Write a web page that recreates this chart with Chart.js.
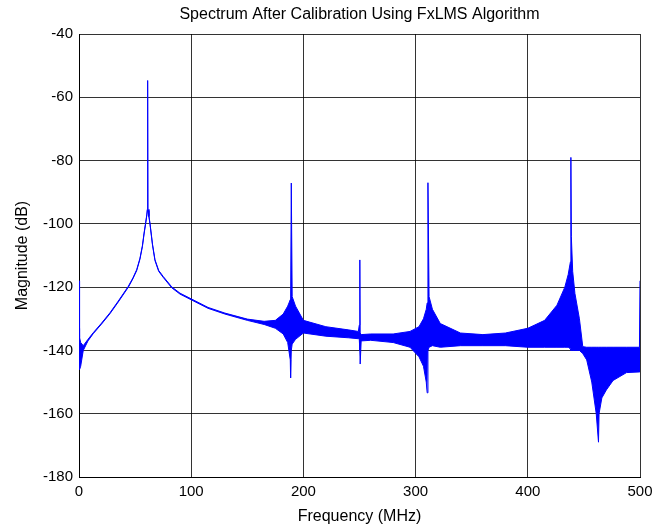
<!DOCTYPE html>
<html>
<head>
<meta charset="utf-8">
<script src="https://cdn.jsdelivr.net/npm/chart.js@4"></script>
<style>
  html, body { margin: 0; padding: 0; background: #fff; }
  #wrap { width: 669px; height: 526px; }
</style>
</head>
<body>
<div id="wrap"><canvas id="spectrum" width="669" height="526"></canvas></div>
<script>
// frequency points (MHz) and the upper / lower edge of the trace (dB)
const freq = [0, 0.5, 1.5, 3.8, 8, 12.7, 20, 27.6, 35, 44, 48, 51.4, 54.3, 56.5, 58, 59.5, 60.5, 60.9, 61.2, 61.5, 62.3, 63.3, 65.5, 67.7, 71, 75, 82.6, 90, 100, 115, 130, 150,
  165, 175, 182, 186, 188.3, 188.6, 189.2, 190, 193, 200, 220, 240, 249, 249.8, 250.3, 250.6, 251.5, 260, 280, 295,
  303, 307, 309.5, 310.3, 311, 312, 315, 322, 340, 360, 380, 400, 415, 426, 433, 436, 438, 438.3, 438.5, 438.8,
  440, 442, 446, 449, 452.5, 457, 461, 463, 463.5, 466, 470, 476, 488, 499.5, 500];
const upper = [-118, -136, -137.5, -138.5, -136.5, -134.4, -131.4, -128.1, -124.4, -119.7, -117.1, -114.5, -110.9, -106.9, -102.9, -99.4, -96.9, -95.4, -54.7, -95.4, -97.4, -99.9, -106.4, -111.3, -114.7, -116.6, -119.9, -121.9, -123.7, -126.4, -128.2, -130.1,
  -130.8, -130.5, -128.5, -126, -124, -126, -87.1, -123, -126, -130.5, -132.5, -133.5, -134, -132, -111.4, -134.5, -135, -134.8, -134.8, -134,
  -132.5, -130, -127, -125, -87, -123, -127, -131.5, -134.5, -135, -134.5, -133, -130.5, -125.7, -120, -116, -112, -103, -79, -104,
  -115, -122, -130, -138.8, -139, -139, -139, -139, -139, -139, -139, -139, -139, -139, -118];
const lower = [-133, -146, -145, -140, -137, -134.7, -131.7, -128.4, -124.7, -120, -117.4, -114.8, -111.2, -107.2, -103.2, -99.7, -97.2, -95.8, -96, -95.8, -97.7, -100.2, -106.7, -111.6, -115, -116.9, -120.2, -122.2, -124, -126.7, -128.5, -130.5,
  -131.8, -133, -134.8, -137.5, -143, -148.7, -140, -138, -136.5, -134.5, -135.5, -136, -136.3, -136.5, -140, -144.3, -137, -136.8, -137.5, -139,
  -142, -145, -150, -153.4, -140, -139, -138.5, -139, -138.5, -138.5, -138.5, -139, -139, -139, -139, -139, -139.5, -139.5, -140, -140,
  -140, -140, -140, -141, -143, -150, -160, -169, -160, -155, -152.5, -149.5, -147, -146.8, -146.8];

const xTicks = [0, 100, 200, 300, 400, 500];
const yTicks = [-180, -160, -140, -120, -100, -80, -60, -40];
const titleText = 'Spectrum After Calibration Using FxLMS Algorithm';

const font = 'Liberation Sans, Arial, Helvetica, sans-serif';
const blue = '#0000ff';

// title centred over the plot box, like the original
const plotTitle = {
  id: 'plotTitle',
  afterDraw(chart) {
    const { ctx, chartArea } = chart;
    ctx.save();
    ctx.fillStyle = '#000';
    ctx.font = '16px ' + font;
    ctx.textAlign = 'center';
    ctx.textBaseline = 'middle';
    ctx.fillText(titleText, (chartArea.left + chartArea.right) / 2, 15);
    ctx.restore();
  }
};

new Chart(document.getElementById('spectrum').getContext('2d'), {
  type: 'line',
  data: {
    datasets: [{
      label: 'upper',
      data: freq.map((f, i) => ({ x: f, y: upper[i] })),
      borderColor: blue,
      backgroundColor: blue,
      borderWidth: 1,
      pointRadius: 0,
      tension: 0,
      fill: '+1'
    }, {
      label: 'lower',
      data: freq.map((f, i) => ({ x: f, y: lower[i] })),
      borderColor: blue,
      borderWidth: 1,
      pointRadius: 0,
      tension: 0,
      fill: false
    }]
  },
  options: {
    responsive: false,
    animation: false,
    layout: { padding: { left: 0, right: 29, top: 34, bottom: 0 } },
    plugins: {
      legend: { display: false },
      tooltip: { enabled: false },
      title: { display: false }
    },
    scales: {
      x: {
        type: 'linear',
        min: 0,
        max: 500,
        afterBuildTicks: s => { s.ticks = xTicks.map(v => ({ value: v })); },
        afterFit: s => { s.height = 49; },
        ticks: { color: '#000', font: { family: font, size: 15 }, padding: 6, maxRotation: 0 },
        grid: { color: 'rgba(0,0,0,0.8)', lineWidth: 1, drawTicks: false },
        border: { color: '#000', width: 1 },
        title: {
          display: true,
          text: 'Frequency (MHz)',
          color: '#000',
          font: { family: font, size: 16, lineHeight: 1.2 },
          padding: { top: 0, bottom: 0 }
        }
      },
      y: {
        type: 'linear',
        min: -180,
        max: -40,
        afterBuildTicks: s => { s.ticks = yTicks.map(v => ({ value: v })); },
        afterFit: s => { s.width = 79; },
        ticks: { color: '#000', font: { family: font, size: 15 }, padding: 6 },
        grid: { color: 'rgba(0,0,0,0.8)', lineWidth: 1, drawTicks: false },
        border: { color: '#000', width: 1 },
        title: {
          display: true,
          text: 'Magnitude (dB)',
          color: '#000',
          font: { family: font, size: 16, lineHeight: 1.2 },
          padding: { top: 13, bottom: 0 }
        }
      }
    }
  },
  plugins: [plotTitle]
});
</script>
</body>
</html>
